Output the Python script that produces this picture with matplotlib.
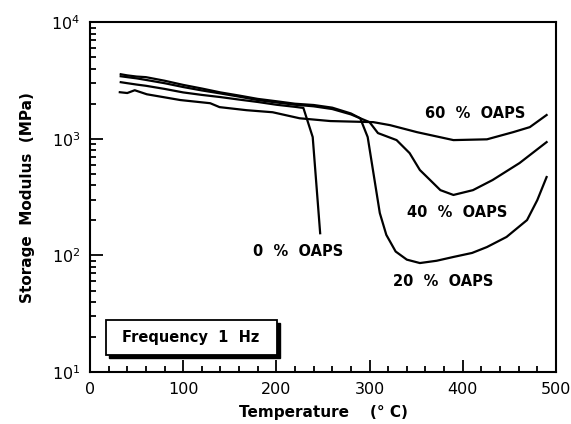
import matplotlib
matplotlib.use('Agg')
import matplotlib.pyplot as plt
from matplotlib.patches import Rectangle
from matplotlib.ticker import MultipleLocator, LogLocator, NullFormatter

# data (temperature in C, storage modulus in MPa)
T_0 = [33, 40, 50, 60, 80, 100, 120, 140, 160, 180, 200, 220, 229, 239, 247]
E_0 = [3060, 3000, 2920, 2850, 2680, 2500, 2380, 2280, 2170, 2070, 1960, 1880, 1840, 1035, 155]

T_20 = [33, 40, 50, 60, 80, 100, 120, 140, 160, 180, 200, 220, 240, 260, 280, 290, 298,
        311, 318, 328, 340, 354, 372, 390, 410, 426, 447, 469, 480, 490]
E_20 = [3580, 3500, 3420, 3380, 3150, 2900, 2700, 2500, 2350, 2200, 2100, 2000, 1950, 1850, 1650, 1500, 1035,
        231, 150, 108, 92, 86, 90, 97, 105, 118, 144, 201, 298, 470]

T_40 = [33, 40, 50, 60, 80, 100, 120, 140, 160, 180, 200, 220, 240, 260, 280, 300, 309,
        329, 343, 354, 365, 376, 390, 411, 432, 461, 490]
E_40 = [3440, 3380, 3300, 3200, 3000, 2780, 2600, 2450, 2300, 2150, 2050, 1960, 1900, 1800, 1620, 1390, 1120,
        975, 754, 540, 443, 363, 330, 363, 443, 620, 937]

T_60 = [32, 40, 48, 61, 97, 129, 139, 168, 196, 225, 258, 304, 322, 351, 390, 426, 454, 472, 490]
E_60 = [2510, 2470, 2610, 2410, 2150, 2020, 1870, 1760, 1690, 1500, 1420, 1390, 1310, 1140, 975, 990, 1140, 1260, 1600]

labels = ['0  %  OAPS', '20  %  OAPS', '40  %  OAPS', '60  %  OAPS']
label_pos = [(223, 109), (379, 60), (394, 235), (413, 1660)]

fig = plt.figure(figsize=(5.71, 4.24), dpi=100)
ax = fig.add_axes([0.1576, 0.1226, 0.816, 0.825])

for T, E in [(T_0, E_0), (T_20, E_20), (T_40, E_40), (T_60, E_60)]:
    ax.plot(T, E, color='black', lw=1.6)

for lab, (x, y) in zip(labels, label_pos):
    ax.text(x, y, lab, ha='center', va='center', fontsize=10.5, fontweight='bold')

ax.set_yscale('log')
ax.set_xlim(0, 500)
ax.set_ylim(10, 10000)

ax.xaxis.set_major_locator(MultipleLocator(100))
ax.xaxis.set_minor_locator(MultipleLocator(20))
ax.yaxis.set_major_locator(LogLocator(base=10))
ax.yaxis.set_minor_locator(LogLocator(base=10, subs=range(2, 10)))
ax.yaxis.set_minor_formatter(NullFormatter())

ax.tick_params(which='both', direction='in', top=False, right=False, width=1.3, labelsize=11.5)
ax.tick_params(which='major', length=9, pad=7)
ax.tick_params(which='minor', length=4)
for s in ax.spines.values():
    s.set_linewidth(1.5)

ax.set_xlabel('Temperature    (° C)', fontsize=11, fontweight='bold', labelpad=6)
ax.set_ylabel('Storage  Modulus  (MPa)', fontsize=11, fontweight='bold', labelpad=12)

# boxed note with drop shadow
ax.add_patch(Rectangle((0.040, 0.040), 0.367, 0.100, transform=ax.transAxes,
                       facecolor='black', edgecolor='black', zorder=3))
ax.add_patch(Rectangle((0.034, 0.049), 0.367, 0.100, transform=ax.transAxes,
                       facecolor='white', edgecolor='black', lw=1.3, zorder=4))
ax.text(0.217, 0.099, 'Frequency  1  Hz', transform=ax.transAxes, ha='center', va='center',
        fontsize=10.5, fontweight='bold', zorder=5)

fig.savefig('out.png', dpi=100)
